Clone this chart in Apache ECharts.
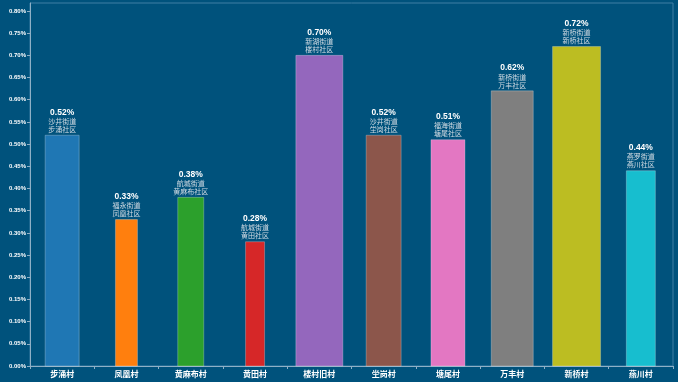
<!DOCTYPE html>
<html><head><meta charset="utf-8">
<script src="https://cdn.jsdelivr.net/npm/echarts@6/dist/echarts.min.js"></script>
<style>html,body{margin:0;padding:0;background:#00527c;}#c{width:678px;height:382px;}</style>
</head><body><div id="c"></div>
<script>
const categories = ['步涌村','凤凰村','黄麻布村','黄田村','楼村旧村','坣岗村','塘尾村','万丰村','新桥村','燕川村'];
const values = [0.52, 0.33, 0.38, 0.28, 0.70, 0.52, 0.51, 0.62, 0.72, 0.44];
const streets = ['沙井街道','福永街道','航城街道','航城街道','新湖街道','沙井街道','福海街道','新桥街道','新桥街道','燕罗街道'];
const communities = ['步涌社区','凤凰社区','黄麻布社区','黄田社区','楼村社区','坣岗社区','塘尾社区','万丰社区','新桥社区','燕川社区'];
const yTicks = [0,0.05,0.10,0.15,0.20,0.25,0.30,0.35,0.40,0.45,0.50,0.55,0.60,0.65,0.70,0.75,0.80];

const barWidths = [34,22,26,19,47,35,34,42,48,29];
const colors = ['#1f77b4','#ff7f0e','#2ca02c','#d62728','#9467bd','#8c564b','#e377c2','#7f7f7f','#bcbd22','#17becf'];

const chart = echarts.init(document.getElementById('c'), null, {renderer:'canvas'});
chart.setOption({
  backgroundColor:'#00527c',
  animation:false,
  grid:{left:30,right:5,top:3,bottom:16,show:true,borderColor:'#3f7ea4',borderWidth:1,
    containLabel:false, outerBoundsMode:'none'},
  xAxis:{
    type:'category', data:categories,
    axisLine:{lineStyle:{color:'#8fb0c6'}},
    axisTick:{show:true,alignWithLabel:false,lineStyle:{color:'#8fb0c6'},length:3},
    axisLabel:{color:'#ffffff',fontSize:8,fontWeight:'bold',fontFamily:'Noto Sans CJK SC',margin:4,interval:0},
    splitLine:{show:false}
  },
  yAxis:{
    type:'value', min:0, max:0.818,
    name:'楼栋占比 总量', nameLocation:'middle', nameGap:22, nameRotate:90,
    nameTextStyle:{color:'#ffffff',fontSize:7,fontWeight:'bold',fontFamily:'Noto Sans CJK SC'},
    axisLine:{show:true,lineStyle:{color:'#8fb0c6'}},
    axisTick:{show:true,length:3,lineStyle:{color:'#8fb0c6'},customValues:yTicks},
    axisLabel:{color:'#ffffff',fontSize:6,fontWeight:'bold',fontFamily:'Liberation Sans',margin:4,
      customValues:yTicks, formatter:v=>v.toFixed(2)+'%'},
    splitLine:{show:false}
  },
  series:[{
    type:'custom',
    data: values.map((v,i)=>[i,v]),
    encode:{x:0,y:1},
    renderItem:function(params, api){
      const i = api.value(0), v = api.value(1);
      const top = api.coord([i, v]);
      const base = api.coord([i, 0]);
      const w = barWidths[i];
      return {type:'group', children:[
        {type:'rect', shape:{x:top[0]-w/2, y:top[1], width:w, height:base[1]-top[1]},
          style:{fill:colors[i], stroke:'rgba(255,255,255,0.25)', lineWidth:1}},
        {type:'text', style:{text:v.toFixed(2)+'%', x:top[0], y:top[1]-23, align:'center', verticalAlign:'middle',
          fill:'#ffffff', font:'bold 8.5px "Liberation Sans", Arial, sans-serif'}},
        {type:'text', style:{text:streets[i], x:top[0], y:top[1]-14, align:'center', verticalAlign:'middle',
          fill:'#d3dde4', font:'7px "Noto Sans CJK SC", sans-serif'}},
        {type:'text', style:{text:communities[i], x:top[0], y:top[1]-6, align:'center', verticalAlign:'middle',
          fill:'#d3dde4', font:'7px "Noto Sans CJK SC", sans-serif'}}
      ]};
    }
  }]
});
</script></body></html>
